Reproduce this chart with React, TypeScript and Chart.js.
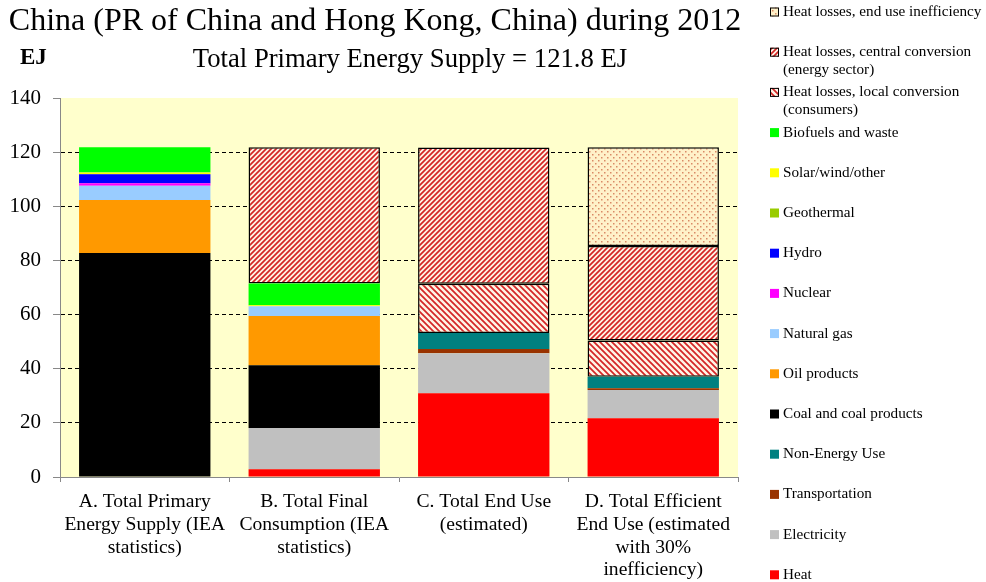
import React, { useEffect, useRef } from "react";
import { Chart, registerables } from "chart.js";

Chart.register(...registerables);

// ---- Data ----
const categories: string[][] = [
  ["A. Total Primary", "Energy Supply (IEA", "statistics)"],
  ["B. Total Final", "Consumption (IEA", "statistics)"],
  ["C. Total End Use", "(estimated)"],
  ["D. Total Efficient", "End Use (estimated", "with 30%", "inefficiency)"],
];

const heat = [0, 2.9, 30.9, 21.7];
const electricity = [0, 15.2, 14.8, 10.4];
const transportation = [0, 0, 1.6, 0.7];
const nonEnergyUse = [0, 0, 5.9, 4.2];
const coal = [82.7, 23.2, 0, 0];
const oilProducts = [19.6, 18.2, 0, 0];
const naturalGas = [5.3, 3.6, 0, 0];
const nuclear = [0.9, 0, 0, 0];
const hydro = [3.3, 0, 0, 0];
const geothermal = [0.1, 0, 0, 0];
const solarWindOther = [0.6, 0.3, 0, 0];
const biofuels = [9.3, 8.1, 0, 0];
const lossLocal = [0, 0, 18.2, 13.4];
const lossCentral = [0, 50.3, 50.3, 34.9];
const lossEndUse = [0, 0, 0, 36.5];

const seriesNames = [
  "Heat",
  "Electricity",
  "Transportation",
  "Non-Energy Use",
  "Coal and coal products",
  "Oil products",
  "Natural gas",
  "Nuclear",
  "Hydro",
  "Geothermal",
  "Solar/wind/other",
  "Biofuels and waste",
  "Heat losses, local conversion\n(consumers)",
  "Heat losses, central conversion\n(energy sector)",
  "Heat losses, end use inefficiency",
];

const seriesValues = [
  heat, electricity, transportation, nonEnergyUse, coal, oilProducts, naturalGas,
  nuclear, hydro, geothermal, solarWindOther, biofuels, lossLocal, lossCentral, lossEndUse,
];

const seriesColors = [
  "#FF0000", "#C0C0C0", "#993300", "#008080", "#000000", "#FF9900", "#99CCFF",
  "#FF00FF", "#0000FF", "#99CC00", "#FFFF00", "#00FF00", "local", "central", "enduse",
];

const yTicks = [0, 20, 40, 60, 80, 100, 120, 140];

const titleText = "China (PR of China and Hong Kong, China) during 2012";
const subtitleText = "Total Primary Energy Supply = 121.8 EJ";
const unitText = "EJ";

const SERIF = '"Liberation Serif", "Times New Roman", serif';

function makeStripe(dir: "fwd" | "back", s: number): CanvasPattern | string {
  const c = document.createElement("canvas");
  c.width = s;
  c.height = s;
  const g = c.getContext("2d");
  if (!g) return "#d33";
  g.fillStyle = "#FFF4E6";
  g.fillRect(0, 0, s, s);
  g.strokeStyle = "#D42626";
  g.lineWidth = 1.7;
  g.beginPath();
  if (dir === "fwd") {
    g.moveTo(-1, s + 1); g.lineTo(s + 1, -1);
    g.moveTo(-1, 1); g.lineTo(1, -1);
    g.moveTo(s - 1, s + 1); g.lineTo(s + 1, s - 1);
  } else {
    g.moveTo(-1, -1); g.lineTo(s + 1, s + 1);
    g.moveTo(s - 1, -1); g.lineTo(s + 1, 1);
    g.moveTo(-1, s - 1); g.lineTo(1, s + 1);
  }
  g.stroke();
  const p = g.createPattern(c, "repeat");
  return p || "#d33";
}

function makeDots(): CanvasPattern | string {
  const s = 6;
  const c = document.createElement("canvas");
  c.width = s;
  c.height = s;
  const g = c.getContext("2d");
  if (!g) return "#fec";
  g.fillStyle = "#FFF1C9";
  g.fillRect(0, 0, s, s);
  g.fillStyle = "#D98A66";
  g.fillRect(1, 1, 1.5, 1.5);
  g.fillRect(4, 4, 1.5, 1.5);
  const p = g.createPattern(c, "repeat");
  return p || "#fec";
}

export default function App() {
  const ref = useRef<HTMLCanvasElement | null>(null);

  useEffect(() => {
    const canvas = ref.current;
    if (!canvas) return;
    const patterns: Record<string, any> = {
      local: makeStripe("back", 6),
      central: makeStripe("fwd", 5),
      enduse: makeDots(),
    };

    const datasets = seriesNames.map((name, i) => {
      const key = seriesColors[i];
      const hatched = !!patterns[key];
      const bg = hatched ? patterns[key] : key;
      return {
        label: name,
        data: seriesValues[i],
        backgroundColor: bg,
        borderColor: "#000000",
        borderWidth: hatched ? (c: any) => (c.raw ? 1.5 : 0) : 0,
        borderSkipped: false as any,
        hatched,
        barPercentage: 0.775,
        categoryPercentage: 1,
      } as any;
    });

    const bgPlugin = {
      id: "plotBg",
      beforeDraw(chart: any) {
        const { ctx, chartArea } = chart;
        ctx.save();
        ctx.fillStyle = "#FFFFCC";
        ctx.fillRect(chartArea.left, chartArea.top, chartArea.right - chartArea.left, chartArea.bottom - chartArea.top);
        ctx.restore();
      },
    };

    const textPlugin = {
      id: "texts",
      afterDraw(chart: any) {
        const ctx = chart.ctx;
        ctx.save();
        ctx.fillStyle = "#000";
        ctx.textBaseline = "middle";
        ctx.textAlign = "center";
        ctx.font = `32px ${SERIF}`;
        ctx.fillText(titleText, 375, 22);
        ctx.font = `26.7px ${SERIF}`;
        ctx.fillText(subtitleText, 410, 60);
        ctx.textAlign = "left";
        ctx.font = `bold 23px ${SERIF}`;
        ctx.fillText(unitText, 20, 58);

        // legend
        const ds = chart.data.datasets;
        ctx.font = `15.2px ${SERIF}`;
        for (let k = 0; k < ds.length; k++) {
          const d = ds[ds.length - 1 - k];
          const y = 12 + 40.2 * k;
          ctx.fillStyle = d.backgroundColor;
          ctx.fillRect(770, y - 4.5, 9, 9);
          if (d.hatched) {
            ctx.strokeStyle = "#000";
            ctx.lineWidth = 1;
            ctx.strokeRect(770.5, y - 4, 8, 8);
          }
          ctx.fillStyle = "#000";
          const lines = String(d.label).split("\n");
          lines.forEach((ln: string, j: number) => {
            ctx.fillText(ln, 783, y + j * 17.5);
          });
        }
        ctx.restore();
      },
    };

    const chart = new Chart(canvas, {
      type: "bar",
      data: { labels: categories as any, datasets },
      options: {
        responsive: false,
        animation: false,
        devicePixelRatio: 1,
        layout: { padding: { top: 98, right: 248, left: 0, bottom: 0 } },
        plugins: { legend: { display: false }, title: { display: false }, tooltip: { enabled: false } },
        scales: {
          x: {
            stacked: true,
            afterFit: (s: any) => { s.height = 105; },
            grid: { display: true, drawOnChartArea: false, offset: true, tickLength: 5, tickColor: "#888888", color: "#888888" },
            border: { display: true, color: "#888888", width: 1 },
            ticks: {
              autoSkip: false,
              maxRotation: 0,
              minRotation: 0,
              padding: 9,
              color: "#000",
              font: { family: SERIF, size: 19.6, lineHeight: 1.15 },
            },
          },
          y: {
            stacked: true,
            min: 0,
            max: 140,
            afterFit: (s: any) => { s.width = 60; },
            afterBuildTicks: (s: any) => { s.ticks = yTicks.map((v) => ({ value: v })); },
            grid: {
              color: (c: any) => (c.tick && (c.tick.value === 0 || c.tick.value === 140) ? "rgba(0,0,0,0)" : "#000000"),
              lineWidth: 1,
              tickLength: 7,
              tickColor: "#888888",
              drawTicks: true,
            },
            border: { display: true, color: "#888888", width: 1, dash: [4, 3] },
            ticks: {
              padding: 12,
              color: "#000",
              font: { family: SERIF, size: 21 },
            },
          },
        },
      } as any,
      plugins: [bgPlugin, textPlugin],
    });

    return () => chart.destroy();
  }, []);

  return (
    <div style={{ position: "fixed", left: 0, top: 0, width: 986, height: 582, background: "#fff" }}>
      <canvas ref={ref} width={986} height={582} />
    </div>
  );
}
